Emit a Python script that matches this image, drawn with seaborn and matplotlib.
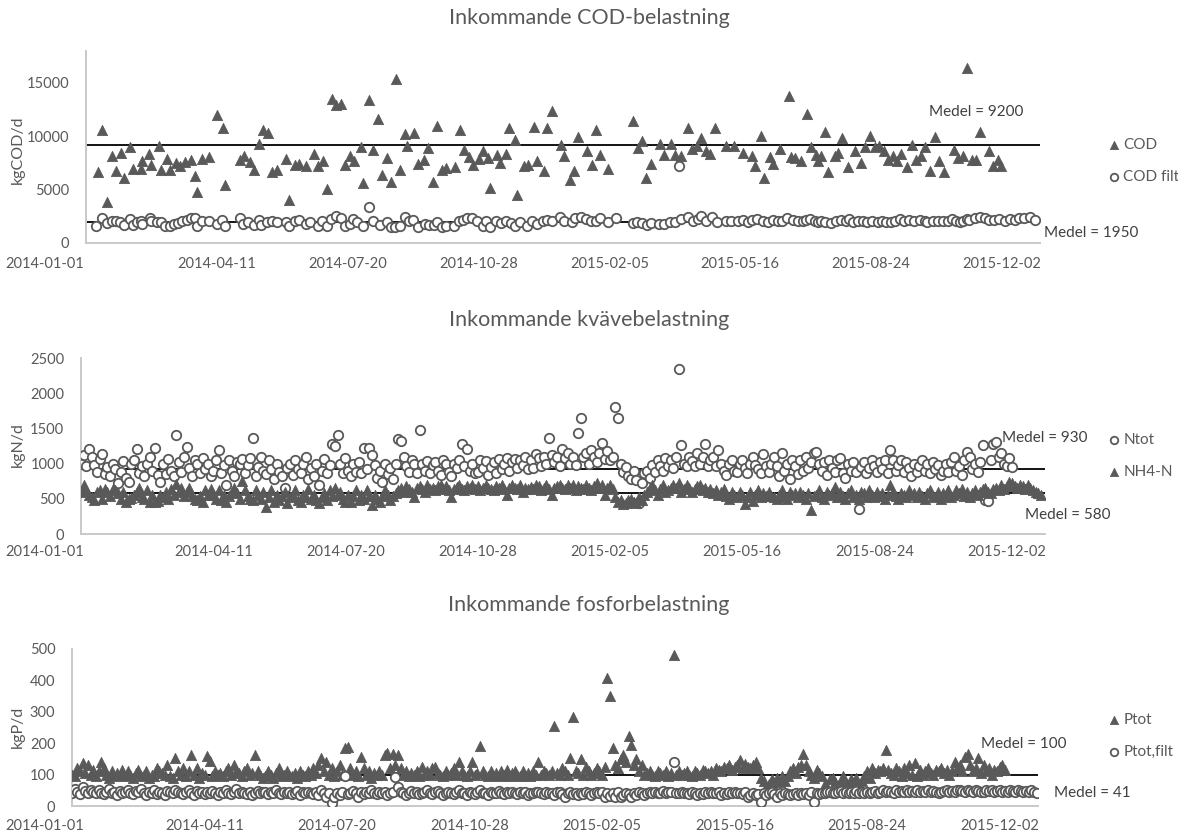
import numpy as np
import pandas as pd
import matplotlib
matplotlib.use("Agg")
import matplotlib.pyplot as plt
import seaborn as sns

# ---------------- data ----------------
START = pd.Timestamp("2014-01-01")

# COD (sampled days, offset from 2014-01-01) and load in kgCOD/d
cod_day = [9, 12, 16, 20, 23, 27, 29, 34, 36, 42,
           43, 48, 50, 56, 57, 62, 64, 69, 72, 76,
           80, 83, 85, 89, 94, 100, 105, 106, 118, 121,
           125, 128, 132, 135, 139, 142, 146, 153, 155, 160,
           163, 168, 174, 177, 181, 184, 188, 191, 195, 198,
           202, 205, 210, 212, 216, 219, 223, 226, 230, 233,
           237, 240, 244, 245,
           251, 254, 258, 261, 265, 268, 272, 275, 282, 286,
           289, 293, 296, 300, 303, 307, 309, 314, 316, 321,
           323, 328, 329, 335, 338, 342, 345, 350, 352, 356,
           363, 365, 370, 373, 376, 383, 387, 390, 393, 399,
           418, 422, 425, 428, 432, 439, 442, 447, 450, 455,
           460, 463, 467, 470, 474, 477, 481, 489,
           495, 502, 509, 511, 516, 518, 523, 525, 530, 537,
           539, 542, 546, 551, 554, 558, 559, 562, 565, 567,
           572, 575, 578, 582, 588, 592, 595, 599, 603, 606,
           610, 613, 617, 620, 623, 627, 631, 634, 638, 641,
           645, 649, 652, 656, 663, 666, 670, 673, 677, 680,
           683, 690, 693, 697, 699]
cod_val = [6630, 10580, 3890, 8110, 6730, 8480, 6110, 9040, 6970, 6970,
           7650, 8360, 7310, 9100, 6880, 7870, 6880, 7500, 7190, 7560,
           7740, 6260, 4780, 7870, 8050, 12030, 10800, 5430, 7800, 8110,
           7560, 6880, 9290, 10640, 10270, 6630, 6820, 7900, 4010, 7340,
           7430, 7250, 8330, 7250, 7650, 5090, 13510, 12900, 13050, 7340,
           8170, 7650, 8980, 5650, 13360, 8730, 11660, 6420, 7960, 5710,
           15360, 6820, 10180, 9100,
           10270, 7430, 7800, 8880, 5740, 10980, 6820, 7030, 7100, 10580,
           8730, 8050, 7340, 7870, 8580, 7960, 5180, 8270, 7500, 8360,
           10740, 9660, 4470, 7190, 7340, 10890, 7710, 6720, 10740, 12370,
           9190, 8170, 5950, 6720, 9960, 8580, 7340, 10640, 8240, 6940,
           11410, 8880, 9560, 6110, 7430, 9290, 8270, 9290, 8240, 8170,
           10740, 8790, 9100, 9810, 8580, 8360, 10740, 9100,
           9100, 8480, 8110, 7250, 10030, 6050, 8050, 7430, 8790, 13820,
           8050, 7960, 7650, 12120, 9040, 8270, 7650, 8170, 10430, 6630,
           8170, 8480, 9810, 7100, 8670, 7500, 8980, 10030, 9040, 9100,
           8580, 7740, 8170, 7650, 8360, 7130, 9190, 7800, 8110, 8980,
           6720, 9900, 7650, 6660, 8730, 7960, 8170, 16440, 7800, 7800,
           10430, 8580, 7250, 7740, 7190]

# filtered COD
codf_day = [8, 12, 16, 20, 23, 26, 29, 34, 36, 39,
            42, 43, 49, 50, 54, 57, 60, 64, 67, 70,
            73, 77, 80, 83, 85, 89, 94, 100, 104, 106,
            118, 120, 124, 128, 132, 134, 138, 142, 146, 153,
            155, 160, 163, 168, 171, 177, 180, 184, 187, 191,
            195, 198, 202, 204, 207, 212, 216, 219, 225, 230,
            233, 236, 240, 244, 247,
            250, 254, 259, 262, 266, 268, 272, 275, 281, 285,
            288, 291, 295, 299, 303, 306, 309, 313, 317, 321,
            325, 328, 332, 337, 341, 345, 349, 352, 356, 362,
            365, 371, 374, 378, 382, 386, 390, 393, 399, 405,
            418, 421, 425, 429, 432, 438, 442, 446, 450, 453,
            455, 460, 464, 468, 470, 474, 478, 482, 489,
            493, 498, 502, 506, 509, 513, 517, 521, 525, 529,
            532, 536, 540, 544, 548, 550, 553, 557, 559, 562,
            565, 569, 573, 577, 581, 583, 586, 590, 594, 597,
            601, 605, 608, 611, 615, 618, 622, 625, 629, 633,
            637, 641, 643, 647, 651, 655, 659, 662, 665, 668,
            670, 673, 675, 679, 683, 687, 690, 694, 698, 702,
            706, 710, 713, 717, 721, 725]
codf_val = [1640, 2310, 1850, 2040, 2100, 1940, 1700, 2250, 1700, 1940,
            2100, 1790, 2310, 2040, 1940, 1940, 1640, 1570, 1790, 1850,
            2040, 2190, 2310, 2340, 1640, 2040, 2040, 1790, 2160, 1640,
            2340, 1790, 2010, 1700, 2130, 1700, 1940, 2040, 2010, 1940,
            1640, 2100, 2160, 1790, 1940, 1640, 2100, 1640, 2250, 2500,
            2310, 1570, 1790, 2250, 1940, 1640, 3330, 2040, 1700, 1940,
            1480, 1480, 1640, 2470, 2100,
            2190, 1480, 1790, 1700, 1700, 1940, 1480, 1570, 1640, 2100,
            2190, 2340, 2310, 2040, 1640, 2040, 1480, 2100, 1850, 2040,
            1850, 1640, 1940, 1640, 2100, 1790, 2040, 2190, 2040, 2410,
            2100, 1940, 2340, 2410, 2250, 2040, 2100, 2340, 1940, 2340,
            1850, 1940, 1850, 1700, 1850, 1790, 1790, 1940, 1940, 7190,
            2250, 2410, 2100, 2250, 2500, 2040, 2410, 1940, 2100,
            2040, 2100, 2190, 1940, 2190, 2250, 2100, 2010, 2190, 2040,
            2100, 2310, 2160, 2040, 2100, 2190, 2250, 2100, 1940, 2040,
            1940, 1880, 2040, 2160, 2040, 2250, 1940, 2040, 2100, 1940,
            2040, 2010, 2100, 1940, 1940, 2040, 2250, 2100, 2160, 2040,
            2160, 2040, 1940, 2040, 2100, 2040, 2100, 2250, 2040, 1940,
            2040, 2250, 2190, 2310, 2410, 2340, 2190, 2160, 2250, 2100,
            2250, 2160, 2340, 2340, 2410, 2160]

# nitrogen loads, one value every second day from 2014-01-01 (kgN/d)
ntot_val = [1000, 1120, 960, 1213, 1100, 980, 880, 1060, 1130, 850,
            950, 820, 1000, 930, 727, 880, 1040, 800, 736, 1000,
            1050, 1213, 860, 960, 820, 1000, 1100, 900, 1227, 840,
            741, 1000, 850, 1060, 900, 820, 1400, 1020, 880, 1100,
            1237, 940, 830, 1050, 1000, 860, 1080, 920, 1000, 820,
            900, 1050, 1199, 860, 980, 694, 1050, 900, 820, 1020,
            1000, 1060, 860, 980, 1080, 1369, 820, 950, 1100, 900,
            850, 1050, 920, 780, 1000, 880, 820, 660, 940, 1000,
            840, 1050, 920, 860, 1000, 1100, 780, 940, 820, 1000,
            694, 900, 1060, 860, 980, 1284, 1250, 1400, 1000, 860,
            1080, 900, 820, 1000, 880, 1020, 860, 1227, 920, 1227,
            1118, 980, 800, 900, 740, 1000, 850, 940, 780, 1000,
            1355, 1322, 1100, 960, 880, 1050, 1000, 860, 1473, 1000,
            900, 1040, 860, 980, 1020, 900, 840, 1050, 1000, 880,
            830, 1000, 940, 1050, 1284, 960, 1213, 900, 1000, 860,
            880, 1050, 940, 1030, 840, 950, 1020, 860, 1060, 920,
            1000, 1080, 900, 1020, 1060, 940, 1050, 980, 1100, 920,
            1050, 940, 1133, 1080, 960, 1100, 1000, 1369, 1120, 1020,
            1100, 960, 1213, 1080, 1150, 1000, 1100, 980, 1435, 1652,
            1100, 1150, 1000, 1200, 1100, 1020, 1150, 1293, 1060, 1180,
            1050, 1100, 1803, 1647, 1000, 880, 950, 820, 780, 900,
            760, 434, 720, 860, 900, 800, 980, 880, 1050, 960,
            900, 1080, 960, 1050, 940, 1100, 2346, 1270, 1000, 960,
            1100, 1040, 960, 1150, 1000, 1100, 1284, 960, 1050, 1100,
            960, 1199, 1000, 900, 840, 1000, 1050, 900, 880, 1000,
            1050, 940, 860, 1000, 1100, 980, 920, 860, 1142, 960,
            880, 1000, 1100, 960, 820, 1150, 900, 1000, 780, 1050,
            960, 850, 1050, 900, 1100, 940, 1020, 1152, 1160, 1000,
            900, 1020, 840, 1050, 940, 880, 1050, 1080, 860, 800,
            1000, 900, 1020, 880, 349, 950, 1020, 860, 940, 1050,
            960, 880, 1020, 920, 1050, 860, 1189, 1048, 900, 980,
            1050, 880, 1020, 940, 820, 1000, 880, 960, 1050, 900,
            1000, 860, 1020, 920, 980, 840, 900, 1000, 880, 1020,
            1100, 900, 960, 840, 1050, 1166, 1095, 920, 1000, 880,
            1020, 1260, 481, 470, 1050, 1284, 1300, 1100, 1150, 1000,
            960, 1080, 950]
nh4_val = [600, 694, 620, 560, 520, 480, 600, 620, 500, 640,
           600, 540, 640, 620, 580, 500, 600, 460, 500, 510,
           560, 600, 650, 520, 500, 620, 460, 560, 458, 472,
           560, 520, 600, 500, 640, 560, 708, 600, 650, 540,
           600, 660, 540, 500, 480, 540, 460, 620, 560, 640,
           560, 500, 620, 480, 560, 460, 540, 600, 660, 580,
           500, 750, 620, 540, 500, 480, 620, 560, 500, 600,
           387, 520, 620, 460, 560, 480, 540, 600, 440, 520,
           560, 620, 480, 460, 560, 520, 640, 500, 560, 480,
           440, 520, 580, 480, 620, 540, 660, 560, 600, 500,
           460, 560, 450, 540, 620, 480, 560, 500, 620, 540,
           410, 560, 500, 460, 540, 620, 560, 480, 540, 580,
           620, 650, 600, 680, 640, 600, 520, 650, 680, 640,
           600, 700, 640, 660, 620, 680, 700, 640, 680, 620,
           520, 640, 670, 690, 640, 620, 680, 650, 700, 640,
           680, 620, 650, 700, 660, 640, 620, 680, 650, 700,
           640, 560, 660, 690, 650, 640, 700, 600, 660, 640,
           670, 640, 700, 680, 620, 660, 700, 640, 560, 650,
           680, 700, 660, 640, 690, 650, 700, 620, 680, 660,
           640, 700, 660, 620, 680, 720, 650, 700, 560, 660,
           700, 640, 520, 460, 480, 430, 440, 480, 500, 460,
           440, 520, 480, 560, 600, 650, 690, 620, 560, 640,
           700, 600, 620, 660, 700, 650, 720, 600, 640, 700,
           660, 600, 640, 680, 700, 620, 660, 600, 640, 580,
           620, 560, 600, 640, 540, 500, 600, 560, 520, 600,
           560, 430, 520, 600, 470, 560, 620, 520, 580, 540,
           600, 540, 520, 500, 560, 620, 520, 500, 600, 560,
           580, 520, 600, 560, 500, 580, 340, 540, 560, 620,
           520, 500, 600, 560, 580, 670, 520, 600, 540, 500,
           580, 620, 520, 560, 500, 600, 580, 520, 620, 560,
           520, 600, 540, 580, 500, 560, 694, 600, 540, 500,
           580, 560, 520, 620, 560, 580, 520, 600, 540, 500,
           580, 620, 540, 520, 600, 500, 580, 540, 620, 520,
           560, 620, 580, 640, 540, 600, 520, 580, 620, 560,
           600, 640, 660, 600, 580, 640, 660, 620, 700, 640,
           680, 741, 720, 680, 650, 700, 680, 640, 700, 660,
           620, 600, 580, 552]

# phosphorus loads, one value every second day from 2014-01-01 (kgP/d)
ptot_val = [100, 95, 120, 110, 136, 105, 130, 100, 115, 95,
            110, 141, 120, 100, 90, 110, 95, 105, 100, 115,
            95, 110, 100, 90, 105, 115, 95, 100, 110, 90,
            100, 95, 120, 110, 105, 100, 131, 95, 90, 152,
            110, 100, 120, 95, 110, 162, 100, 120, 90, 105,
            100, 159, 143, 95, 110, 100, 105, 95, 110, 120,
            100, 130, 110, 105, 95, 110, 120, 100, 105, 162,
            110, 100, 90, 95, 110, 100, 90, 105, 120, 95,
            100, 110, 100, 95, 105, 90, 110, 100, 95, 110,
            100, 120, 105, 130, 152, 110, 140, 100, 120, 95,
            110, 130, 100, 184, 189, 120, 100, 110, 95, 157,
            120, 100, 110, 90, 105, 100, 110, 100, 164, 168,
            120, 165, 130, 164, 120, 100, 110, 95, 105, 100,
            110, 95, 125, 100, 110, 100, 120, 125, 105, 100,
            95, 110, 100, 105, 120, 100, 141, 110, 100, 95,
            110, 141, 100, 105, 191, 110, 100, 95, 110, 100,
            105, 95, 110, 100, 115, 95, 105, 110, 100, 95,
            110, 100, 105, 95, 110, 100, 141, 100, 110, 105,
            100, 110, 255, 105, 100, 120, 110, 100, 154, 285,
            110, 105, 149, 100, 125, 110, 100, 105, 120, 110,
            100, 125, 409, 351, 184, 131, 120, 150, 162, 140,
            223, 194, 130, 149, 110, 130, 100, 105, 110, 100,
            95, 110, 105, 100, 110, 95, 105, 481, 100, 110,
            100, 105, 110, 100, 95, 110, 105, 100, 115, 110,
            105, 110, 100, 120, 115, 110, 125, 120, 130, 115,
            125, 130, 146, 120, 135, 125, 120, 130, 141, 120,
            90, 80, 60, 70, 85, 60, 90, 75, 95, 80,
            95, 110, 120, 105, 125, 130, 166, 130, 110, 100,
            90, 115, 105, 95, 70, 60, 85, 90, 75, 65,
            80, 95, 70, 60, 85, 75, 90, 65, 80, 95,
            110, 90, 120, 105, 115, 110, 120, 178, 115, 105,
            100, 120, 110, 95, 120, 105, 130, 100, 138, 95,
            115, 100, 110, 120, 105, 100, 115, 110, 120, 105,
            115, 100, 110, 139, 120, 130, 110, 155, 166, 130,
            110, 120, 152, 105, 130, 110, 120, 100, 115, 110,
            125, 131, 115]
pfilt_val = [40, 55, 45, 38, 60, 48, 42, 52, 45, 40,
             50, 42, 38, 46, 55, 40, 44, 36, 48, 42,
             45, 52, 40, 38, 48, 44, 55, 40, 36, 46,
             42, 50, 38, 45, 40, 35, 48, 44, 40, 52,
             46, 40, 38, 44, 50, 42, 36, 48, 40, 45,
             38, 44, 40, 48, 42, 36, 45, 40, 50, 42,
             38, 45, 55, 40, 46, 42, 38, 44, 36, 42,
             48, 40, 44, 45, 38, 44, 40, 50, 42, 38,
             44, 40, 46, 38, 42, 48, 36, 44, 40, 46,
             42, 38, 44, 36, 50, 40, 30, 42, 11, 30,
             40, 36, 44, 97, 38, 42, 48, 40, 30, 45,
             38, 44, 40, 50, 42, 38, 46, 40, 44, 36,
             40, 44, 93, 62, 45, 40, 36, 42, 48, 40,
             44, 38, 40, 45, 50, 42, 38, 44, 48, 40,
             36, 42, 45, 40, 38, 44, 50, 42, 40, 36,
             45, 40, 38, 44, 50, 42, 40, 36, 45, 40,
             42, 48, 40, 38, 44, 40, 46, 42, 38, 45,
             40, 44, 36, 42, 40, 46, 45, 40, 38, 44,
             42, 40, 36, 44, 45, 38, 30, 40, 44, 38,
             40, 36, 42, 38, 44, 40, 36, 42, 46, 40,
             44, 30, 42, 32, 40, 28, 44, 30, 36, 42,
             38, 30, 40, 36, 44, 40, 36, 42, 46, 40,
             44, 40, 42, 48, 40, 44, 46, 141, 42, 40,
             45, 42, 40, 38, 44, 40, 36, 42, 38, 44,
             40, 46, 42, 40, 44, 36, 42, 38, 44, 40,
             46, 42, 40, 38, 44, 30, 36, 40, 34, 38,
             14, 42, 36, 40, 44, 38, 30, 42, 36, 40,
             38, 34, 38, 40, 36, 42, 38, 40, 36, 44,
             14, 40, 38, 42, 40, 46, 44, 42, 40, 45,
             48, 42, 44, 40, 46, 42, 48, 40, 44, 42,
             46, 40, 44, 48, 42, 46, 50, 44, 48, 46,
             42, 50, 46, 48, 44, 50, 46, 48, 44, 50,
             46, 48, 44, 50, 46, 48, 44, 42, 46, 48,
             50, 46, 48, 44, 50, 52, 48, 46, 50, 48,
             46, 50, 48, 44, 46, 50, 48, 52, 46, 48,
             50, 46, 48, 44, 50, 48, 46, 50, 48, 46,
             48, 44, 50, 46, 40]

# mean levels
cod_mean, codf_mean = 9200, 1950
ntot_mean, nh4_mean = 930, 580
ptot_mean, pfilt_mean = 100, 41

titles = ["Inkommande COD-belastning", "Inkommande kvävebelastning",
          "Inkommande fosforbelastning"]
ylabels = ["kgCOD/d", "kgN/d", "kgP/d"]
tick_days = [0, 100, 200, 300, 400, 500, 600, 700]


def to_dates(days):
    return START + pd.to_timedelta(np.asarray(days), unit="D")


def every_second_day(values):
    return to_dates(np.arange(len(values)) * 2)


# ---------------- style ----------------
sns.set_theme(style="white")
plt.rcParams["font.family"] = ["Lato", "DejaVu Sans"]

DARK = "#595959"
TEXT = "#595959"
AXIS = "#c9c9c9"
W, H = 1178, 834
TICK_FS = 10.5

fig = plt.figure(figsize=(W / 100, H / 100), dpi=100)


def px_axes(left, top, right, bottom):
    return fig.add_axes([left / W, 1 - bottom / H, (right - left) / W, (bottom - top) / H])


ax1 = px_axes(86, 51, 1040, 243)
ax2 = px_axes(81, 358, 1045, 534)
ax3 = px_axes(72, 649, 1038, 806)
axis_bottoms = [243, 534, 806]

tri_kw = dict(marker="^", color=DARK, edgecolor=DARK, s=54, linewidth=0.6, zorder=3)
circ_kw = dict(marker="o", facecolor="white", edgecolor=DARK, s=46, linewidth=1.3, zorder=3)

# COD
sns.scatterplot(x=to_dates(cod_day), y=cod_val, ax=ax1, label="COD", **tri_kw)
sns.scatterplot(x=to_dates(codf_day), y=codf_val, ax=ax1, label="COD filt", **circ_kw)
# nitrogen
sns.scatterplot(x=every_second_day(ntot_val), y=ntot_val, ax=ax2, label="Ntot", **circ_kw)
sns.scatterplot(x=every_second_day(nh4_val), y=nh4_val, ax=ax2, label="NH4-N", **tri_kw)
# phosphorus
sns.scatterplot(x=every_second_day(ptot_val), y=ptot_val, ax=ax3, label="Ptot", **tri_kw)
sns.scatterplot(x=every_second_day(pfilt_val), y=pfilt_val, ax=ax3, label="Ptot,filt", **circ_kw)

x_end = START + pd.Timedelta(days=729)
ylims = [(0, 18000), (0, 2500), (0, 500)]
yticks = [[0, 5000, 10000, 15000], [0, 500, 1000, 1500, 2000, 2500],
          [0, 100, 200, 300, 400, 500]]
means = [(cod_mean, codf_mean), (ntot_mean, nh4_mean), (ptot_mean, pfilt_mean)]
xpads = [10, 8, 9.5]
title_y = [18, 320, 605]
ylabel_y = [150, 445, 727]

for i, ax in enumerate([ax1, ax2, ax3]):
    ax.set_xlim(START, x_end)
    ax.set_ylim(*ylims[i])
    ax.set_yticks(yticks[i])
    ax.set_yticklabels([f"{v:d}" for v in yticks[i]])
    ticks = to_dates(tick_days)
    ax.set_xticks(ticks)
    labels = [d.strftime("%Y-%m-%d") for d in ticks]
    first_label = labels[0]
    labels[0] = ""
    ax.set_xticklabels(labels)
    ax.tick_params(axis="both", length=0, labelsize=TICK_FS, colors=TEXT)
    ax.tick_params(axis="y", pad=12)
    ax.tick_params(axis="x", pad=xpads[i])
    for s in ["top", "right"]:
        ax.spines[s].set_visible(False)
    for s in ["left", "bottom"]:
        ax.spines[s].set_color(AXIS)
        ax.spines[s].set_linewidth(1.4)
    ax.set_xlabel("")
    ax.set_ylabel("")
    for m in means[i]:
        ax.axhline(m, color="black", linewidth=1.3, zorder=2)
    ax.set_facecolor("white")
    # the first date label sits flush with the left edge of the chart
    label_top = axis_bottoms[i] + xpads[i] * 100 / 72
    fig.text(45 / W, 1 - label_top / H, first_label, ha="center", va="top",
             fontsize=TICK_FS, color=TEXT)
    fig.text(0.5, 1 - title_y[i] / H, titles[i], ha="center", va="center",
             fontsize=15.5, color=TEXT)
    fig.text(18 / W, 1 - ylabel_y[i] / H, ylabels[i], ha="center", va="center",
             rotation=90, fontsize=11.5, color=TEXT)


# mean annotations
def note(ax, day, value, text, ha):
    ax.text(START + pd.Timedelta(days=day), value, text, ha=ha, va="center",
            fontsize=11, color="#404040", clip_on=False)


note(ax1, 680, 12300, "Medel = 9200", "center")
note(ax1, 732, 940, "Medel = 1950", "left")
note(ax2, 729, 1360, "Medel = 930", "center")
note(ax2, 746, 270, "Medel = 580", "center")
note(ax3, 718, 197, "Medel = 100", "center")
note(ax3, 741, 41, "Medel = 41", "left")

# legends on the right
legend_pos = [(1102, 144), (1102, 439), (1102, 719)]
for ax, (lx, ly) in zip([ax1, ax2, ax3], legend_pos):
    leg = ax.legend(loc="upper left", bbox_to_anchor=(lx / W, 1 - (ly - 14) / H),
                    bbox_transform=fig.transFigure, frameon=False, fontsize=11,
                    markerscale=0.8, handlelength=0.6, handletextpad=0.3,
                    labelspacing=1.2, borderpad=0)
    for t in leg.get_texts():
        t.set_color(TEXT)

fig.savefig("out.png", dpi=100, facecolor="white")
